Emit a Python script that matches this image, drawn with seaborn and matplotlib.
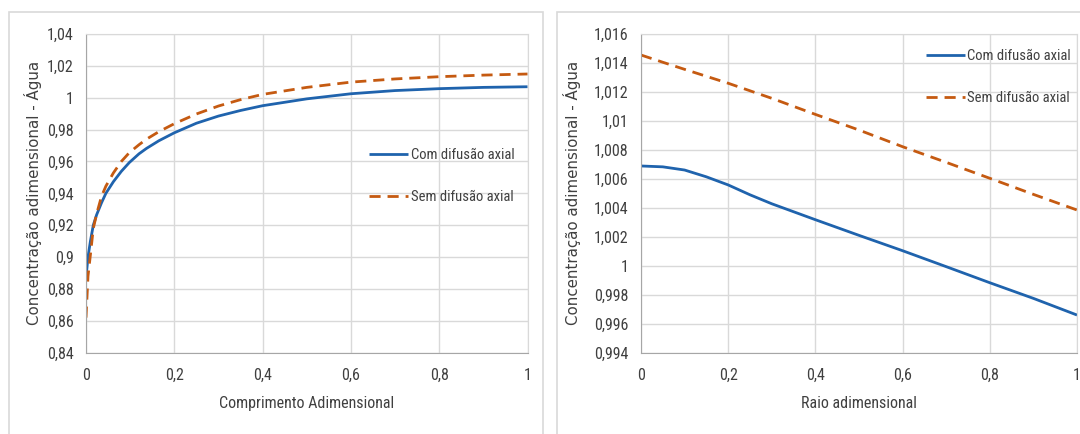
import numpy as np
import pandas as pd
import matplotlib
matplotlib.use("Agg")
import matplotlib.pyplot as plt
from matplotlib import font_manager
from matplotlib.patches import Rectangle
from matplotlib.ticker import FuncFormatter, MultipleLocator
import seaborn as sns

# left panel: concentration along the length
z_pos = [0, 0.0045, 0.01, 0.0165, 0.024, 0.035, 0.045, 0.062, 0.08, 0.098, 0.12, 0.137,
         0.165, 0.2, 0.25, 0.3, 0.35, 0.4, 0.5, 0.6, 0.7, 0.8, 0.9, 1.0]
z_com = [0.887, 0.900, 0.910, 0.920, 0.9265, 0.934, 0.940, 0.9473, 0.9538, 0.9593, 0.9648, 0.9682,
         0.9730, 0.9780, 0.9840, 0.9885, 0.9920, 0.9950, 0.9993, 1.0025, 1.0045, 1.0057, 1.0065, 1.0069]
z_sem = [0.862, 0.888, 0.9015, 0.918, 0.927, 0.938, 0.9445, 0.9528, 0.960, 0.9655, 0.9705, 0.974,
         0.9787, 0.9837, 0.9898, 0.9948, 0.9988, 1.0021, 1.0065, 1.0098, 1.0118, 1.0132, 1.0142, 1.0149]

# right panel: concentration along the radius
r_pos = [0, 0.05, 0.1, 0.15, 0.2, 0.25, 0.3, 0.4, 0.5, 0.6, 0.7, 0.8, 0.9, 1.0]
r_com = [1.00689, 1.00683, 1.00661, 1.00614, 1.00558, 1.00490, 1.00428, 1.00318, 1.00210,
         1.00104, 0.99994, 0.99883, 0.99775, 0.9966]
r_sem = [1.01455, 1.01405, 1.01356, 1.01308, 1.0126, 1.01208, 1.01156, 1.01045, 1.00937,
         1.00822, 1.00714, 1.00604, 1.00493, 1.00385]

series_names = ["Com difusão axial", "Sem difusão axial"]
BLUE = "#1f63ad"
ORANGE = "#c55a11"
TXT = "#404040"

sns.set_style("white")

# pick the narrowest family that is installed (the original uses Calibri)
installed = {f.name for f in font_manager.fontManager.ttflist}
narrow = "DejaVu Sans"
for cand in ["Liberation Sans Narrow", "Roboto Condensed", "DejaVu Sans Condensed",
             "Open Sans Condensed", "Roboto"]:
    if cand in installed:
        narrow = cand
        break
plt.rcParams['font.family'] = [narrow, 'DejaVu Sans']
small = narrow in ("Roboto", "DejaVu Sans")
tick_fs = 10.5 if small else 11.5
leg_fs = 9.5 if small else 10.5

def comma(v, pos):
    s = f"{round(v, 6):g}"
    return s.replace(".", ",")

def make_df(x, a, b):
    return pd.DataFrame({
        "x": list(x) + list(x),
        "y": list(a) + list(b),
        "serie": [series_names[0]] * len(x) + [series_names[1]] * len(x),
    })

def draw_panel(ax, df, ylim, ystep, xlabel, leg_anchor, ylab_x):
    sns.lineplot(data=df, x="x", y="y", hue="serie", style="serie",
                 palette=[BLUE, ORANGE], dashes=[(1, 0), (4, 2.5)],
                 linewidth=2.0, ax=ax, sort=False, estimator=None)
    ax.set_xlim(0, 1)
    ax.set_ylim(*ylim)
    ax.xaxis.set_major_locator(MultipleLocator(0.2))
    ax.yaxis.set_major_locator(MultipleLocator(ystep))
    ax.xaxis.set_major_formatter(FuncFormatter(comma))
    ax.yaxis.set_major_formatter(FuncFormatter(comma))
    ax.grid(True, color="#d9d9d9", linewidth=1.0)
    ax.set_axisbelow(True)
    for side in ["top", "right"]:
        ax.spines[side].set_color("#d9d9d9")
    for side in ["left", "bottom"]:
        ax.spines[side].set_color("#a6a6a6")
    ax.tick_params(axis="both", length=0, labelsize=tick_fs, colors=TXT)
    ax.tick_params(axis="y", pad=9)
    ax.tick_params(axis="x", pad=11)
    ax.set_xlabel(xlabel, fontsize=tick_fs, color=TXT)
    ax.xaxis.set_label_coords(0.5, -0.135)
    ax.set_ylabel("Concentração adimensional - Água", fontsize=10.8, color=TXT,
                  family=["DejaVu Sans"])
    ax.yaxis.set_label_coords(ylab_x, 0.5)
    handles, labels = ax.get_legend_handles_labels()
    ax.legend(handles, labels, loc="upper left", bbox_to_anchor=leg_anchor,
              frameon=False, fontsize=leg_fs, handlelength=2.7, handletextpad=0.15,
              labelspacing=1.95, borderpad=0, borderaxespad=0, labelcolor=TXT)

fig = plt.figure(figsize=(10.8, 4.34), dpi=100)

# outer chart frames
fig.add_artist(Rectangle((8.6 / 1080, -0.05), (543 - 8.6) / 1080, 1.05 - 12 / 434,
                         transform=fig.transFigure, fill=False, edgecolor="#d9d9d9", linewidth=1.2))
fig.add_artist(Rectangle((557 / 1080, -0.05), 0.5, 1.05 - 12 / 434,
                         transform=fig.transFigure, fill=False, edgecolor="#d9d9d9", linewidth=1.2))

ax1 = fig.add_axes([86 / 1080, 1 - 352.7 / 434, 441.5 / 1080, 318.7 / 434])
ax2 = fig.add_axes([641 / 1080, 1 - 352.7 / 434, 436 / 1080, 318.7 / 434])

draw_panel(ax1, make_df(z_pos, z_com, z_sem), (0.84, 1.04), 0.02,
           "Comprimento Adimensional", (0.641, 0.643), -0.1)
draw_panel(ax2, make_df(r_pos, r_com, r_sem), (0.994, 1.016), 0.002,
           "Raio adimensional", (0.653, 0.954), -0.137)

fig.savefig("out.png", dpi=100)
